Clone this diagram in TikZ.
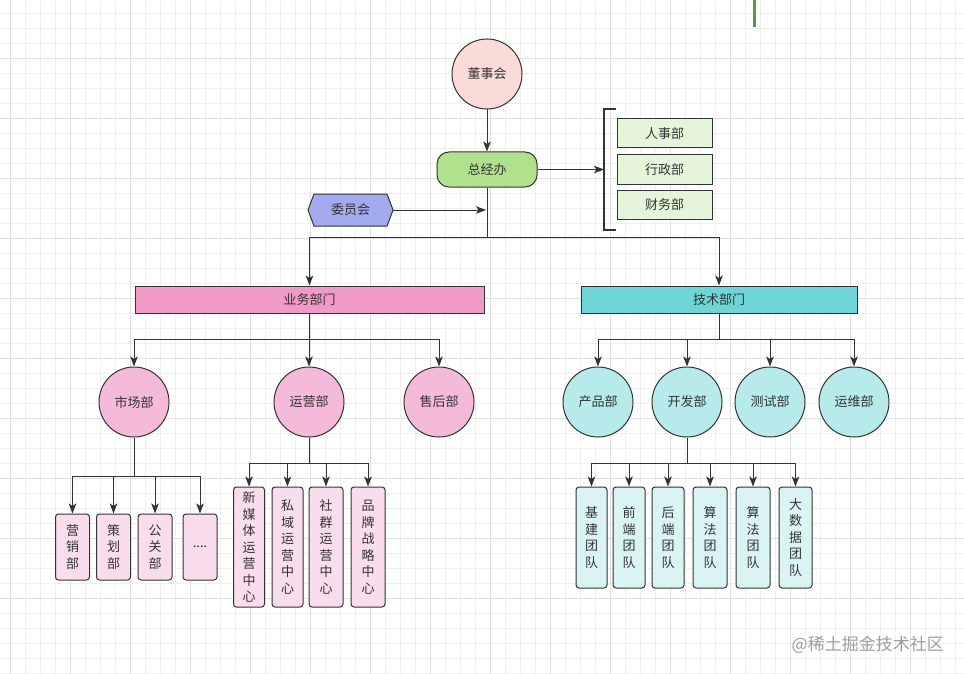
\documentclass[tikz,border=0pt]{standalone}
\usepackage{fontspec}
\setmainfont{Noto Sans CJK SC}
\usetikzlibrary{arrows.meta}
\definecolor{ink}{HTML}{333333}
\definecolor{gridminor}{HTML}{EFEFEF}
\definecolor{gridmajor}{HTML}{E0E0E0}
\definecolor{boardfill}{HTML}{FADBD8}
\definecolor{officefill}{HTML}{B0E28E}
\definecolor{adminfill}{HTML}{E4F5DA}
\definecolor{committeefill}{HTML}{A3AAF0}
\definecolor{bizfill}{HTML}{F19AC7}
\definecolor{techfill}{HTML}{6DD5D6}
\definecolor{bizcircle}{HTML}{F5B9D9}
\definecolor{techcircle}{HTML}{B7EAEA}
\definecolor{bizbox}{HTML}{FADDEC}
\definecolor{techbox}{HTML}{DAF4F4}
\definecolor{markgreen}{HTML}{5B9A3A}
\begin{document}
\begin{tikzpicture}[x=1pt,y=-1pt,
  every node/.style={font=\fontsize{13pt}{16.5pt}\selectfont, text=ink, inner sep=0pt},
  base/.style={draw=ink, line width=1pt},
  circ/.style={base, circle, minimum size=70pt},
  rbox/.style={base, rectangle, rounded corners=3pt, align=center},
  sbox/.style={base, rectangle},
  conn/.style={draw=ink, line width=1pt},
  arr/.style={conn, -{Stealth[length=10pt,width=7.5pt,inset=2.5pt]}}
]
% canvas and grid
\useasboundingbox (0,0) rectangle (964,674);
\fill[white] (0,0) rectangle (964,674);
\foreach \i in {0,...,63} {
  \draw[gridminor, line width=1pt] ({10.3+15*\i},0) -- ({10.3+15*\i},674);
}
\foreach \j in {0,...,44} {
  \draw[gridminor, line width=1pt] (0,{13.3+15*\j}) -- (964,{13.3+15*\j});
}
\foreach \i in {0,...,15} {
  \draw[gridmajor, line width=1pt] ({10.3+60*\i},0) -- ({10.3+60*\i},674);
}
\foreach \j in {0,...,10} {
  \draw[gridmajor, line width=1pt] (0,{-1.7+60*\j}) -- (964,{-1.7+60*\j});
}
\draw[markgreen, line width=2.5pt] (754.7,0) -- (754.7,27);

% top management
\node[circ, fill=boardfill] (dsh) at (487,74) {董事会};
\node[base, fill=officefill, rounded corners=12pt, minimum width=100pt, minimum height=35pt] (zjb) at (487,169.5) {总经办};
\draw[arr] (dsh) -- (zjb);

% administrative group with bracket
\node[sbox, fill=adminfill, minimum width=95pt, minimum height=29pt] (rsb) at (664.5,133.5) {人事部};
\node[sbox, fill=adminfill, minimum width=95pt, minimum height=29pt] (xzb) at (664.5,169.5) {行政部};
\node[sbox, fill=adminfill, minimum width=95pt, minimum height=29pt] (cwb) at (664.5,204.5) {财务部};
\coordinate (br) at (604,169.5);
\draw[conn, line width=1.2pt] (616,109) -- (604,109) -- (604,230) -- (616,230);
\draw[arr] (zjb.east) -- (br);

% committee
\draw[base, fill=committeefill] (308,210) -- (314,194) -- (387,194) -- (393,210) -- (387,226) -- (314,226) -- cycle;
\node[minimum width=85pt, minimum height=32pt] (wyh) at (350.5,210) {委员会};
\coordinate (wyhend) at (486,210);
\draw[arr] (wyh.east) -- (wyhend);

% two divisions
\node[sbox, fill=bizfill, minimum width=349pt, minimum height=27pt] (ywbm) at (309.5,299.5) {业务部门};
\node[sbox, fill=techfill, minimum width=276pt, minimum height=27pt] (jsbm) at (719,299.5) {技术部门};
\coordinate (j1) at (487,237);
\draw[conn] (zjb.south) -- (j1);
\draw[arr] (j1) -| (ywbm.north);
\draw[arr] (j1) -| (jsbm.north);

% business departments
\node[circ, fill=bizcircle] (scb) at (134,402) {市场部};
\node[circ, fill=bizcircle] (yyb) at (309,402) {运营部};
\node[circ, fill=bizcircle] (shb) at (439,402) {售后部};
\coordinate (j2) at (309.5,339);
\draw[conn] (ywbm.south) -- (j2);
\foreach \t in {scb,yyb,shb} { \draw[arr] (j2) -| (\t.north); }

% technical departments
\node[circ, fill=techcircle] (cpb) at (598,402) {产品部};
\node[circ, fill=techcircle] (kfb) at (687,402) {开发部};
\node[circ, fill=techcircle] (csb) at (770,402) {测试部};
\node[circ, fill=techcircle] (ywb) at (854,402) {运维部};
\coordinate (j3) at (719,339);
\draw[conn] (jsbm.south) -- (j3);
\foreach \t in {cpb,kfb,csb,ywb} { \draw[arr] (j3) -| (\t.north); }

% market teams
\node[rbox, fill=bizbox, minimum width=34pt, minimum height=66pt] (yxb) at (72.5,547) {营\\销\\部};
\node[rbox, fill=bizbox, minimum width=34pt, minimum height=66pt] (chb) at (113.5,547) {策\\划\\部};
\node[rbox, fill=bizbox, minimum width=34pt, minimum height=66pt] (ggb) at (155,547) {公\\关\\部};
\node[rbox, fill=bizbox, minimum width=34pt, minimum height=66pt] (more) at (200,547) {....};
\coordinate (j4) at (134,476);
\draw[conn] (scb.south) -- (j4);
\foreach \t in {yxb,chb,ggb,more} { \draw[arr] (j4) -| (\t.north); }

% operations centres
\node[rbox, fill=bizbox, minimum width=31pt, minimum height=120pt] (xmt) at (249,547) {新\\媒\\体\\运\\营\\中\\心};
\node[rbox, fill=bizbox, minimum width=31pt, minimum height=120pt] (syy) at (287.5,547) {私\\域\\运\\营\\中\\心};
\node[rbox, fill=bizbox, minimum width=34pt, minimum height=120pt] (sqy) at (326,547) {社\\群\\运\\营\\中\\心};
\node[rbox, fill=bizbox, minimum width=34pt, minimum height=120pt] (ppz) at (368,547) {品\\牌\\战\\略\\中\\心};
\coordinate (j5) at (309,463);
\draw[conn] (yyb.south) -- (j5);
\foreach \t in {xmt,syy,sqy,ppz} { \draw[arr] (j5) -| (\t.north); }

% development teams
\node[rbox, fill=techbox, minimum width=31pt, minimum height=101pt] (jjt) at (591.5,537.5) {基\\建\\团\\队};
\node[rbox, fill=techbox, minimum width=32pt, minimum height=101pt] (qdt) at (629,537.5) {前\\端\\团\\队};
\node[rbox, fill=techbox, minimum width=32pt, minimum height=101pt] (hdt) at (668,537.5) {后\\端\\团\\队};
\node[rbox, fill=techbox, minimum width=34pt, minimum height=101pt] (sft) at (710,537.5) {算\\法\\团\\队};
\node[rbox, fill=techbox, minimum width=34pt, minimum height=101pt] (sfb) at (753,537.5) {算\\法\\团\\队};
\node[rbox, fill=techbox, minimum width=33pt, minimum height=101pt] (dsj) at (795.5,537.5) {大\\数\\据\\团\\队};
\coordinate (j6) at (687,463);
\draw[conn] (kfb.south) -- (j6);
\foreach \t in {jjt,qdt,hdt,sft,sfb,dsj} { \draw[arr] (j6) -| (\t.north); }

% signature
\node[anchor=east, font=\fontsize{17pt}{20pt}\selectfont, text=black!38] (sig) at (944,645) {@稀土掘金技术社区};
\end{tikzpicture}
\end{document}
